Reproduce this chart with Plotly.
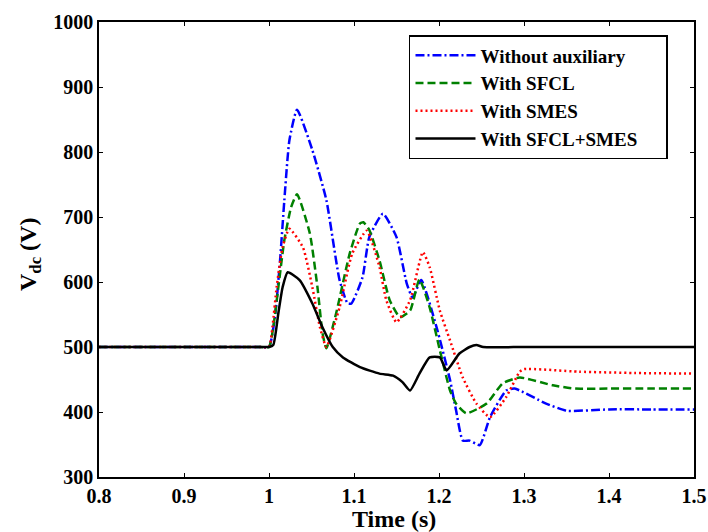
import plotly.graph_objects as go

# Time (s) and voltage (V) values
t_blue = [0.8, 0.9, 0.95, 0.99, 1.0, 1.007, 1.013, 1.018, 1.024, 1.033, 1.051, 1.0675, 1.083, 1.0925, 1.097,
          1.110, 1.118, 1.134, 1.150, 1.162, 1.169, 1.179, 1.197, 1.213, 1.220, 1.228,
          1.236, 1.248, 1.260, 1.279, 1.289, 1.326, 1.35, 1.40, 1.45, 1.5]
v_blue = [500, 500, 500, 500, 500, 546, 633, 725, 818, 865, 803, 726, 603, 567, 567,
          607, 669, 705, 669, 598, 576, 603, 531, 449, 403, 356,
          356, 349, 392, 433, 436, 413, 402, 404, 404, 404]

t_green = [0.8, 0.9, 0.95, 0.99, 1.0, 1.005, 1.011, 1.018, 1.026, 1.033, 1.048, 1.057, 1.063, 1.0675, 1.079,
           1.095, 1.107, 1.111, 1.118, 1.130, 1.142, 1.154, 1.166, 1.177, 1.189, 1.201,
           1.213, 1.220, 1.232, 1.256, 1.275, 1.295, 1.334, 1.36, 1.40, 1.45, 1.5]
v_green = [500, 500, 500, 500, 500, 530, 592, 664, 715, 735, 675, 592, 521, 498, 552,
           644, 690, 692, 680, 633, 572, 546, 556, 604, 561, 495,
           433, 413, 398, 413, 444, 453, 441, 436, 436, 436, 436]

t_red = [0.8, 0.9, 0.95, 0.99, 1.0, 1.004, 1.009, 1.016, 1.024, 1.040, 1.051, 1.060, 1.0675, 1.083, 1.098,
         1.115, 1.130, 1.138, 1.150, 1.166, 1.181, 1.189, 1.201, 1.213, 1.228, 1.244,
         1.260, 1.279, 1.295, 1.30, 1.365, 1.43, 1.5]
v_red = [500, 500, 500, 500, 500, 530, 592, 654, 682, 653, 592, 530, 500, 561, 644,
         679, 623, 572, 538, 572, 646, 623, 556, 510, 453, 413,
         392, 423, 462, 466, 462, 460, 459]

t_black = [0.8, 0.9, 0.95, 0.99, 1.0, 1.005, 1.011, 1.016, 1.022, 1.036, 1.051, 1.063, 1.075, 1.087, 1.107,
           1.130, 1.146, 1.157, 1.166, 1.177, 1.189, 1.201, 1.209, 1.224, 1.236, 1.244,
           1.252, 1.3, 1.4, 1.5]
v_black = [500, 500, 500, 500, 500, 503, 552, 592, 615, 603, 567, 530, 500, 484, 469,
           459, 456, 446, 433, 459, 484, 484, 464, 490, 500, 503,
           500, 500, 500, 500]

names = ["Without auxiliary", "With SFCL", "With SMES", "With SFCL+SMES"]
x_ticks = [0.8, 0.9, 1.0, 1.1, 1.2, 1.3, 1.4, 1.5]
x_tick_text = ["0.8", "0.9", "1", "1.1", "1.2", "1.3", "1.4", "1.5"]
y_ticks = [300, 400, 500, 600, 700, 800, 900, 1000]
y_tick_text = ["300", "400", "500", "600", "700", "800", "900", "1000"]

FONT = "Liberation Serif, Times New Roman, serif"
PAD = "\u00a0" * 5

fig = go.Figure()
series = [
    (t_blue, v_blue, names[0], "#0000FF", "9px,3px,2px,3px"),
    (t_green, v_green, names[1], "#008000", "8px,4px"),
    (t_red, v_red, names[2], "#FF0000", "2px,3px"),
    (t_black, v_black, names[3], "#000000", "solid"),
]
for t, v, n, c, d in series:
    fig.add_trace(go.Scatter(
        x=t, y=v, name="<b>" + n + "</b>" + PAD, mode="lines",
        line=dict(color=c, width=2.5, dash=d, shape="spline", smoothing=0.5),
    ))

axis_common = dict(
    showline=True, linecolor="black", linewidth=1.5, mirror="ticks",
    ticks="inside", ticklen=4, tickwidth=1, tickcolor="black",
    showgrid=False, zeroline=False, automargin=False,
    ticklabeloverflow="allow",
    tickfont=dict(family=FONT, size=20, color="black"),
)

fig.update_layout(
    width=708, height=532,
    margin=dict(l=99, r=14, t=22, b=55),
    paper_bgcolor="white", plot_bgcolor="white",
    xaxis=dict(range=[0.8, 1.5], tickvals=x_ticks,
               ticktext=["<b>" + s + "</b>" for s in x_tick_text],
               **axis_common),
    yaxis=dict(range=[300, 1000], tickvals=y_ticks,
               ticktext=["<b>" + s + "</b>" for s in y_tick_text],
               **axis_common),
    annotations=[
        dict(text="<b>Time (s)</b>", xref="paper", yref="paper", x=0.495, y=-0.093,
             xanchor="center", yanchor="middle", showarrow=False,
             font=dict(family=FONT, size=24, color="black")),
        dict(text="<b>V<sub>dc</sub> (V)</b>", xref="paper", yref="paper", x=-0.116, y=0.49,
             xanchor="center", yanchor="middle", showarrow=False, textangle=-90,
             font=dict(family=FONT, size=24, color="black")),
    ],
    legend=dict(
        x=0.521, y=0.9714, xanchor="left", yanchor="top",
        bordercolor="black", borderwidth=1.5, bgcolor="white",
        font=dict(family=FONT, size=19, color="black"),
        itemwidth=60, tracegroupgap=0,
    ),
    showlegend=True,
)

fig.write_html(
    "out.html",
    config={"displayModeBar": False},
    post_script="document.body.style.margin='0';document.body.style.overflow='hidden';",
)
